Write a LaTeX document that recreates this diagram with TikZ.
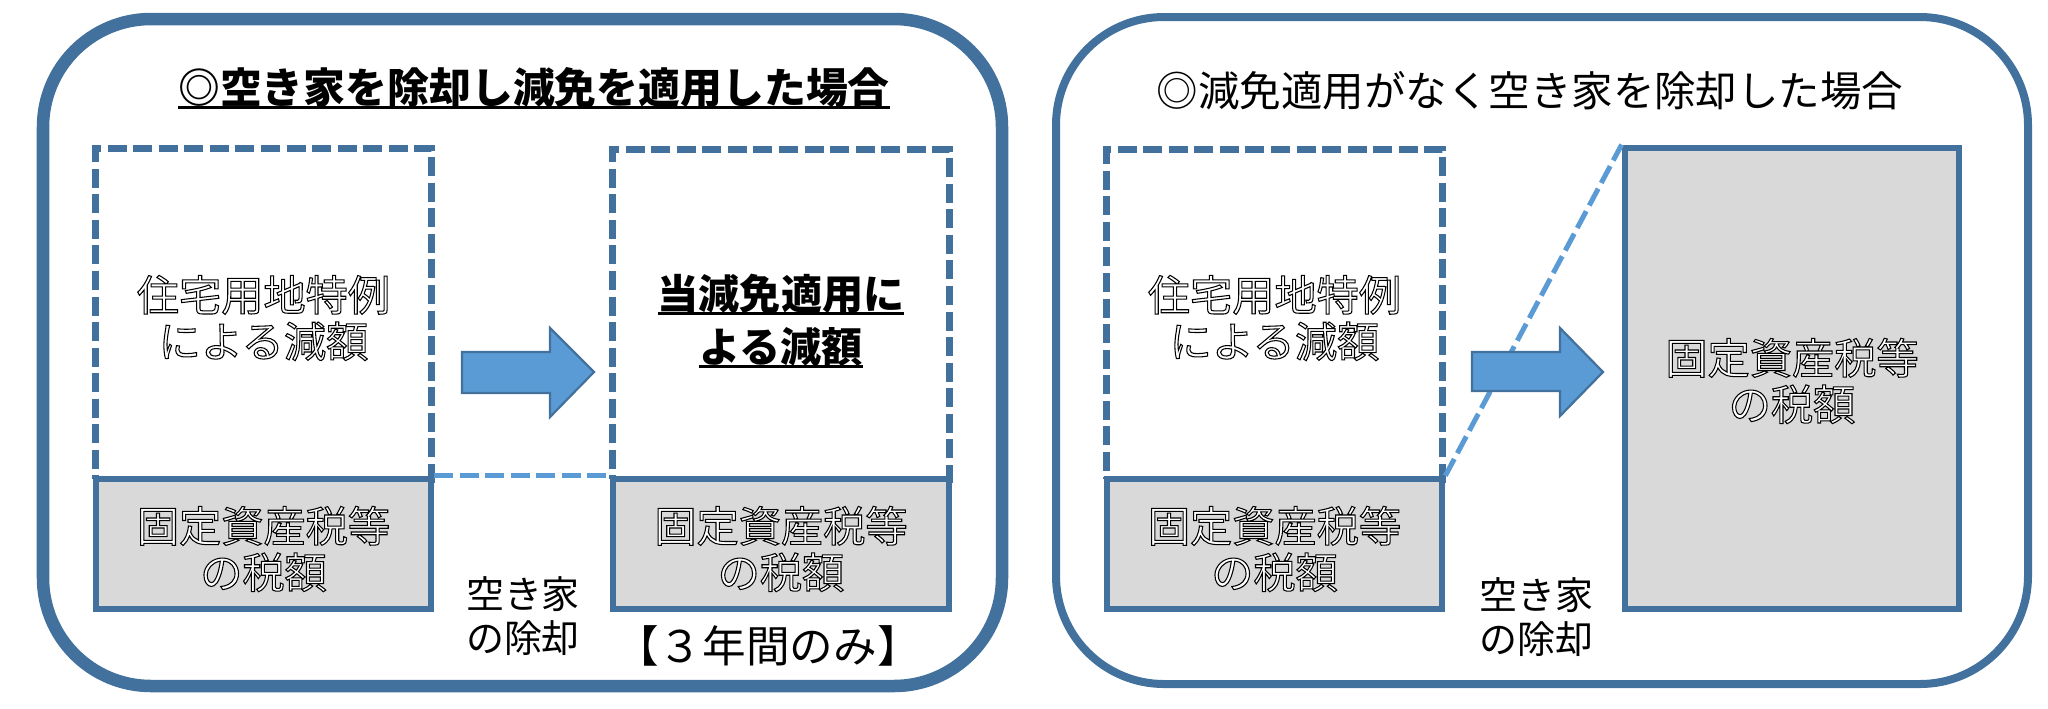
\documentclass[tikz,border=0pt]{standalone}
\usepackage{fontspec}
\setmainfont{Noto Sans CJK JP}
\definecolor{frame}{HTML}{41719C}
\definecolor{lblue}{HTML}{5B9BD5}
\definecolor{boxgray}{HTML}{D9D9D9}
\newcommand\outl[1]{\special{pdf:literal direct 2 Tr 0.3 w 1 g 0 G}#1\special{pdf:literal direct 0 Tr 0 g}}
\newcommand\myul[1]{\setbox0\hbox{#1}\rlap{\vrule width\wd0 height -0.06em depth 0.14em}\box0}
\tikzset{
  outer/.style={draw=frame, rounded corners=1.08cm},
  dashbox/.style={draw=frame, line width=0.07cm, dash pattern=on 0.19cm off 0.065cm, inner sep=0pt},
  graybox/.style={draw=frame, fill=boxgray, line width=0.065cm, inner sep=0pt},
  bodytxt/.style={font=\fontsize{12}{13.2}\selectfont, align=center},
  conn/.style={draw=lblue, line width=0.05cm, dash pattern=on 0.19cm off 0.065cm},
  blockarrow/.style={fill=lblue, draw=frame, line width=0.022cm, line join=miter},
  lbl/.style={font=\fontsize{10.8}{12.4}\selectfont, align=center, inner sep=0pt}
}
\begin{document}
\begin{tikzpicture}[x=0.01cm, y=-0.01cm]
\useasboundingbox (0,0) rectangle (2048,708);
% outer frames
\draw[outer, line width=0.125cm] (43,19) rectangle (1002,686);
\draw[outer, line width=0.08cm] (1056,17) rectangle (2028,684);
% titles
\node[font=\fontsize{11.9}{14}\selectfont\bfseries, inner sep=0pt] (t1) at (534,88) {\myul{◎空き家を除却し減免を適用した場合}};
\node[font=\fontsize{11.8}{14}\selectfont, inner sep=0pt] (t2) at (1530,91) {◎減免適用がなく空き家を除却した場合};
% left panel
\node[dashbox, minimum width=3.35cm, minimum height=3.30cm] (d1) at (263.5,314) {};
\node[bodytxt] (d1t) at (263.5,318) {\outl{住宅用地特例}\\\outl{による減額}};
\node[graybox, minimum width=3.35cm, minimum height=1.30cm] (g1) at (263.5,544) {};
\node[bodytxt] (g1t) at (263.5,549) {\outl{固定資産税等}\\\outl{の税額}};
\node[dashbox, minimum width=3.36cm, minimum height=3.29cm] (d2) at (781,314.5) {};
\node[font=\fontsize{11.7}{15}\selectfont\bfseries, align=center] (d2t) at (781,321) {\myul{当減免適用に}\\\myul{よる減額}};
\node[graybox, minimum width=3.36cm, minimum height=1.30cm] (g2) at (781,544) {};
\node[bodytxt] (g2t) at (781,549) {\outl{固定資産税等}\\\outl{の税額}};
\draw[conn] (g1.north east) -- (g2.north west);
\draw[blockarrow] (462,352) -- (550,352) -- (550,328) -- (594,372) -- (550,417) -- (550,393) -- (462,393) -- cycle;
\node[lbl] (rm1) at (523,616) {空き家\\の除却};
\node[font=\fontsize{12.4}{13}\selectfont, inner sep=0pt] (yr) at (768,646) {【３年間のみ】};
% right panel
\node[dashbox, minimum width=3.35cm, minimum height=3.29cm] (d3) at (1274.5,314.5) {};
\node[bodytxt] (d3t) at (1274.5,318) {\outl{住宅用地特例}\\\outl{による減額}};
\node[graybox, minimum width=3.35cm, minimum height=1.30cm] (g3) at (1274.5,544) {};
\node[bodytxt] (g3t) at (1274.5,549) {\outl{固定資産税等}\\\outl{の税額}};
\node[graybox, minimum width=3.34cm, minimum height=4.61cm] (g4) at (1792,378.5) {};
\node[bodytxt] (g4t) at (1792,381) {\outl{固定資産税等}\\\outl{の税額}};
\draw[conn] (g3.north east) -- (g4.north west);
\draw[blockarrow] (1472,352) -- (1560,352) -- (1560,328) -- (1603,372) -- (1560,416) -- (1560,391) -- (1472,391) -- cycle;
\node[lbl] (rm2) at (1536,617) {空き家\\の除却};
\end{tikzpicture}
\end{document}
